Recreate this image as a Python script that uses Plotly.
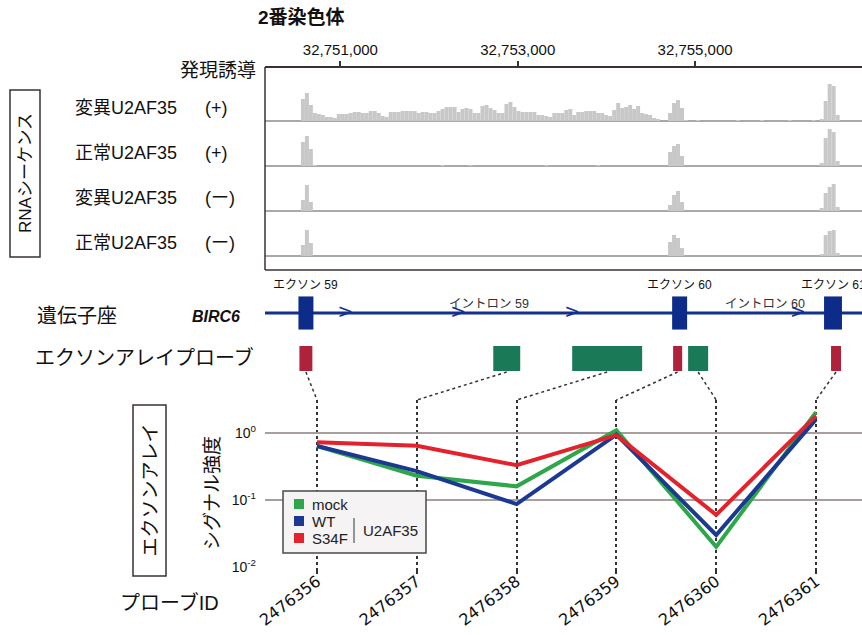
import plotly.graph_objects as go

# ---------------- data ----------------
chromosome = "2番染色体"
genome_ticks = [32751000, 32753000, 32755000]
view_start, view_end = 32750150, 32756882
bin_start = 32750150
bin_size = 45

track_names = ["変異U2AF35", "正常U2AF35", "変異U2AF35", "正常U2AF35"]
track_strands = ["(+)", "(+)", "(ー)", "(ー)"]

cov_mut_plus = [
    0, 0, 0, 0, 0, 0, 0, 0, 0, 22, 28, 16, 8, 7, 6, 4, 4, 3, 7, 7, 7, 8, 9, 9, 8,
    8, 10, 10, 8, 5, 4, 9, 9, 9, 10, 10, 10, 10, 8, 9, 9, 8, 8, 10, 12, 14, 14, 14, 9, 12,
    13, 12, 8, 8, 15, 16, 13, 11, 8, 8, 17, 19, 14, 10, 9, 9, 9, 9, 6, 6, 5, 4, 8, 8, 8,
    11, 12, 6, 9, 9, 10, 10, 10, 8, 8, 6, 5, 11, 18, 13, 14, 16, 12, 15, 8, 7, 6, 3, 2, 0,
    0, 8, 18, 21, 13, 1, 0, 0, 1, 0, 0, 0, 0, 0, 0, 0, 0, 0, 1, 0, 0, 0, 0, 0, 1,
    0, 0, 0, 0, 0, 0, 1, 0, 0, 0, 0, 0, 1, 0, 2, 20, 37, 35, 6, 0, 0, 0, 0, 0, 0,
]
cov_wt_plus = [
    0, 0, 0, 0, 0, 0, 0, 0, 0, 24, 30, 17, 1, 0, 0, 0, 0, 0, 0, 0, 0, 0, 0, 0, 0,
    0, 0, 0, 0, 0, 0, 0, 0, 0, 0, 0, 0, 0, 0, 0, 0, 0, 0, 0, 1, 0, 0, 0, 0, 0,
    0, 1, 0, 0, 0, 0, 0, 0, 0, 0, 0, 0, 0, 0, 0, 0, 0, 0, 0, 0, 1, 0, 0, 0, 0,
    0, 0, 0, 0, 0, 0, 0, 0, 1, 0, 0, 0, 0, 0, 0, 0, 0, 0, 0, 0, 0, 0, 0, 0, 0,
    0, 14, 20, 22, 10, 0, 0, 0, 0, 0, 0, 0, 0, 0, 0, 0, 0, 0, 0, 0, 0, 0, 0, 0, 0,
    0, 0, 0, 0, 0, 0, 0, 0, 0, 0, 0, 0, 0, 0, 3, 28, 37, 34, 5, 0, 0, 0, 0, 0, 0,
]
cov_mut_minus = [
    0, 0, 0, 0, 0, 0, 0, 0, 0, 11, 26, 9, 0, 0, 0, 0, 0, 0, 0, 0, 0, 0, 0, 0, 0,
    0, 0, 0, 0, 0, 0, 0, 0, 0, 0, 0, 0, 0, 0, 0, 0, 0, 0, 0, 0, 0, 0, 0, 0, 0,
    0, 0, 0, 0, 0, 0, 0, 0, 0, 0, 0, 0, 0, 0, 0, 0, 0, 0, 0, 0, 0, 0, 0, 0, 0,
    0, 0, 0, 0, 0, 0, 0, 0, 0, 0, 0, 0, 0, 0, 0, 0, 0, 0, 0, 0, 0, 0, 0, 0, 0,
    0, 6, 16, 20, 9, 0, 0, 0, 0, 0, 0, 0, 0, 0, 0, 0, 0, 0, 0, 0, 0, 0, 0, 0, 0,
    0, 0, 0, 0, 0, 0, 0, 0, 0, 0, 0, 0, 0, 0, 3, 18, 24, 27, 4, 0, 0, 0, 0, 0, 0,
]
cov_wt_minus = [
    0, 0, 0, 0, 0, 0, 0, 0, 0, 11, 26, 13, 0, 0, 0, 0, 0, 0, 0, 0, 0, 0, 0, 0, 0,
    0, 0, 0, 0, 0, 0, 0, 0, 0, 0, 0, 0, 0, 0, 0, 0, 0, 0, 0, 0, 0, 0, 0, 0, 0,
    0, 0, 0, 0, 0, 0, 0, 0, 0, 0, 0, 0, 0, 0, 0, 0, 0, 0, 0, 0, 0, 0, 0, 0, 0,
    0, 0, 0, 0, 0, 0, 0, 0, 0, 0, 0, 0, 0, 0, 0, 0, 0, 0, 0, 0, 0, 0, 0, 0, 0,
    0, 14, 21, 18, 8, 0, 0, 0, 0, 0, 0, 0, 0, 0, 0, 0, 0, 0, 0, 0, 0, 0, 0, 0, 0,
    0, 0, 0, 0, 0, 0, 0, 0, 0, 0, 0, 0, 0, 0, 2, 21, 25, 26, 3, 0, 0, 0, 0, 0, 0,
]
coverage_tracks = [cov_mut_plus, cov_wt_plus, cov_mut_minus, cov_wt_minus]

gene_name = "BIRC6"
exon_names = ["エクソン 59", "エクソン 60", "エクソン 61"]
exon_starts = [32750527, 32754741, 32756454]
exon_ends = [32750696, 32754910, 32756656]
intron_names = ["イントロン 59", "イントロン 60"]
intron_label_pos = [32752680, 32755789]
strand_arrow_pos = [32751056, 32752330, 32753614, 32756161]

probe_ids = ["2476356", "2476357", "2476358", "2476359", "2476360", "2476361"]
probe_starts = [32750538, 32752724, 32753614, 32754752, 32754921, 32756533]
probe_ends = [32750684, 32753028, 32754403, 32754854, 32755147, 32756645]
probe_types = ["exon", "intron", "intron", "exon", "intron", "exon"]

signal_mock = [0.64, 0.23, 0.16, 1.1, 0.020, 2.05]
signal_wt = [0.64, 0.27, 0.087, 0.95, 0.030, 1.6]
signal_s34f = [0.73, 0.645, 0.33, 0.93, 0.060, 1.8]
series_names = ["mock", "WT", "S34F"]
group_name = "U2AF35"

# ---------------- layout helpers ----------------
W, H = 862, 635
FONT = "Liberation Sans, Noto Sans CJK JP, sans-serif"
NAVY = "#12318f"
DARK = "#3a3232"
EXON_RED = "#b0213b"
INTRON_GREEN = "#1a7a58"
SERIES_COLORS = ["#2ea64a", "#1b3991", "#e3222b"]


def fx(px):
    return px / W


def fy(py):
    return 1 - py / H


PX0, PX1 = 265, 862
track_baselines = [121, 166, 211, 256]
track_height = 40
sig_r0, sig_r1 = -0.521, 5.461
sig_top, sig_bottom = 400, 567

fig = go.Figure()
layout = dict(
    width=W, height=H, margin=dict(l=0, r=0, t=0, b=0, autoexpand=False),
    paper_bgcolor="white", plot_bgcolor="rgba(0,0,0,0)",
    font=dict(family=FONT, color="#111"),
    showlegend=False,
)

# genomic x axis
layout["xaxis"] = dict(
    domain=[fx(PX0), 1], range=[view_start, view_end], anchor="free", position=fy(67),
    side="top", tickvals=genome_ticks, tickformat=",d", ticks="outside", ticklen=5,
    tickwidth=1.5, tickcolor=DARK, showline=True, linecolor=DARK, linewidth=1.5,
    showgrid=False, zeroline=False, tickfont=dict(size=15, color="#111"),
    fixedrange=True, automargin=False,
)

# coverage tracks
bin_centers = [bin_start + (k + 0.5) * bin_size for k in range(len(cov_mut_plus))]
for t, cov in enumerate(coverage_tracks):
    yname = "yaxis%d" % (t + 2)
    base = track_baselines[t]
    layout[yname] = dict(
        domain=[fy(base), fy(base - track_height)], range=[0, track_height],
        anchor="x", showticklabels=False, showgrid=False, showline=False, ticks="",
        zeroline=True, zerolinecolor="#a9a9a9", zerolinewidth=2, fixedrange=True,
        automargin=False,
    )
    fig.add_trace(go.Bar(
        x=bin_centers, y=cov, width=bin_size, xaxis="x", yaxis="y%d" % (t + 2),
        marker=dict(color="#c8c8c8", line=dict(width=0)), showlegend=False,
        hoverinfo="skip",
    ))

# gene model axis
layout["yaxis6"] = dict(domain=[fy(331), fy(295)], range=[-1, 1], anchor="x",
                        visible=False, fixedrange=True, automargin=False)
fig.add_trace(go.Scatter(
    x=[view_start, view_end], y=[0, 0], xaxis="x", yaxis="y6", mode="lines",
    line=dict(color=NAVY, width=3), showlegend=False, hoverinfo="skip",
))
fig.add_trace(go.Scatter(
    x=strand_arrow_pos, y=[0] * len(strand_arrow_pos), xaxis="x", yaxis="y6",
    mode="text", text=[">"] * len(strand_arrow_pos),
    textfont=dict(size=19, color=NAVY, family="DejaVu Sans"), showlegend=False,
    hoverinfo="skip",
))

# probe axis
layout["yaxis7"] = dict(domain=[fy(371), fy(346)], range=[0, 1], anchor="x",
                        visible=False, fixedrange=True, automargin=False)

# signal panel
layout["xaxis2"] = dict(
    domain=[fx(PX0), 1], range=[sig_r0, sig_r1], anchor="y8",
    tickvals=list(range(len(probe_ids))), ticktext=probe_ids, tickangle=-37,
    tickfont=dict(size=16, color="#111", family="DejaVu Sans"),
    ticks="outside", ticklen=6, tickwidth=1.5, ticklabelstandoff=-8,
    tickcolor="#333", showgrid=True, gridcolor="#333", gridwidth=1.5,
    griddash="3px,3px", showline=False, zeroline=False, fixedrange=True,
    automargin=False,
)
layout["yaxis8"] = dict(
    domain=[fy(sig_bottom), fy(sig_top)], type="log", range=[-2, 0.4925],
    anchor="x2", tickvals=[0.01, 0.1, 1],
    ticktext=["10<sup>-2</sup>", "10<sup>-1</sup>", "10<sup>0</sup>"],
    tickfont=dict(size=14, color="#111"), showgrid=True, gridcolor="#a89e9e",
    gridwidth=2, showline=False, zeroline=False, ticks="", ticklabelstandoff=8,
    fixedrange=True, automargin=False,
)
x_idx = list(range(len(probe_ids)))
for name, vals, col in zip(series_names, [signal_mock, signal_wt, signal_s34f], SERIES_COLORS):
    fig.add_trace(go.Scatter(
        x=x_idx, y=vals, xaxis="x2", yaxis="y8", mode="lines", name=name,
        line=dict(color=col, width=4), showlegend=False, hoverinfo="skip",
    ))

# ---------------- shapes ----------------
shapes = []
line_dark = dict(color=DARK, width=1.5)
shapes.append(dict(type="line", xref="paper", yref="paper", x0=fx(PX0), x1=fx(PX0),
                   y0=fy(67), y1=fy(270), line=line_dark))
shapes.append(dict(type="line", xref="paper", yref="paper", x0=fx(PX0), x1=1,
                   y0=fy(270), y1=fy(270), line=line_dark))
shapes.append(dict(type="rect", xref="paper", yref="paper", x0=fx(10), x1=fx(40),
                   y0=fy(257), y1=fy(90), line=line_dark))
shapes.append(dict(type="rect", xref="paper", yref="paper", x0=fx(133), x1=fx(166),
                   y0=fy(576), y1=fy(405), line=line_dark))
for s, e in zip(exon_starts, exon_ends):
    shapes.append(dict(type="rect", xref="x", yref="y6", x0=s, x1=e, y0=-0.92, y1=0.92,
                       fillcolor="#0d2c8a", line=dict(width=0)))
for s, e, tp in zip(probe_starts, probe_ends, probe_types):
    shapes.append(dict(type="rect", xref="x", yref="y7", x0=s, x1=e, y0=0, y1=1,
                       fillcolor=EXON_RED if tp == "exon" else INTRON_GREEN,
                       line=dict(width=0)))


def g_to_px(g):
    return PX0 + (g - view_start) / (view_end - view_start) * (PX1 - PX0)


def i_to_px(i):
    return PX0 + (i - sig_r0) / (sig_r1 - sig_r0) * (PX1 - PX0)


for i, (s, e) in enumerate(zip(probe_starts, probe_ends)):
    shapes.append(dict(type="line", xref="paper", yref="paper",
                       x0=fx(g_to_px((s + e) / 2)), y0=fy(372),
                       x1=fx(i_to_px(i)), y1=fy(sig_top),
                       line=dict(color="#333", width=1.5, dash="3px,3px")))

# legend frame and swatches
LEG_L, LEG_R, LEG_T, LEG_B = 283, 426, 491, 553
shapes.append(dict(type="rect", xref="paper", yref="paper", x0=fx(LEG_L), x1=fx(LEG_R),
                   y0=fy(LEG_B), y1=fy(LEG_T), fillcolor="#f5f3f3",
                   line=dict(color="#4a4a4a", width=1.5), layer="above"))
shapes.append(dict(type="line", xref="paper", yref="paper", x0=fx(354), x1=fx(354),
                   y0=fy(543), y1=fy(518), line=dict(color="#555", width=1.2),
                   layer="above"))
legend_rows = [LEG_T + 13 + 17 * k for k in range(len(series_names))]
for col, yrow in zip(SERIES_COLORS, legend_rows):
    shapes.append(dict(type="rect", xref="paper", yref="paper",
                       x0=fx(294), x1=fx(304), y0=fy(yrow + 5), y1=fy(yrow - 5),
                       fillcolor=col, line=dict(width=0), layer="above"))
layout["shapes"] = shapes

# ---------------- annotations ----------------
ann = []


def text(px, py, s, size, xanchor="center", angle=0, color="#111", xref="paper", x=None):
    ann.append(dict(
        x=fx(px) if x is None else x, y=fy(py), xref=xref, yref="paper", text=s,
        showarrow=False, xanchor=xanchor, yanchor="middle", textangle=angle,
        font=dict(size=size, color=color, family=FONT),
    ))


text(301, 18, "<b>%s</b>" % chromosome, 19)
text(258, 70, "発現誘導", 19, xanchor="right")
for name, strand, base in zip(track_names, track_strands, track_baselines):
    text(73, base - 13, name, 18, xanchor="left")
    text(203, base - 13, strand, 18, xanchor="left")
text(25, 173, "RNAシーケンス", 17, angle=-90)
text(35, 316, "遺伝子座", 20, xanchor="left")
text(190, 316, "<b><i>%s</i></b>" % gene_name, 16, xanchor="left")
for name, s, e in zip(exon_names, exon_starts, exon_ends):
    text(0, 285, name, 12, xref="x", x=(s + e) / 2)
for name, pos in zip(intron_names, intron_label_pos):
    text(0, 304, name, 12.5, xref="x", x=pos, color="#333")
text(33, 357, "エクソンアレイプローブ", 20, xanchor="left")
text(149.5, 490, "エクソンアレイ", 19, angle=-90)
text(212, 493, "シグナル強度", 19, angle=-90)
text(169, 602, "プローブID", 20)
for name, yrow in zip(series_names, legend_rows):
    text(310, yrow, name, 15, xanchor="left", color="#222")
text(361, 530, group_name, 15, xanchor="left", color="#222")
layout["annotations"] = ann

fig.update_layout(**layout)
fig.write_html("out.html", config={"displayModeBar": False})
